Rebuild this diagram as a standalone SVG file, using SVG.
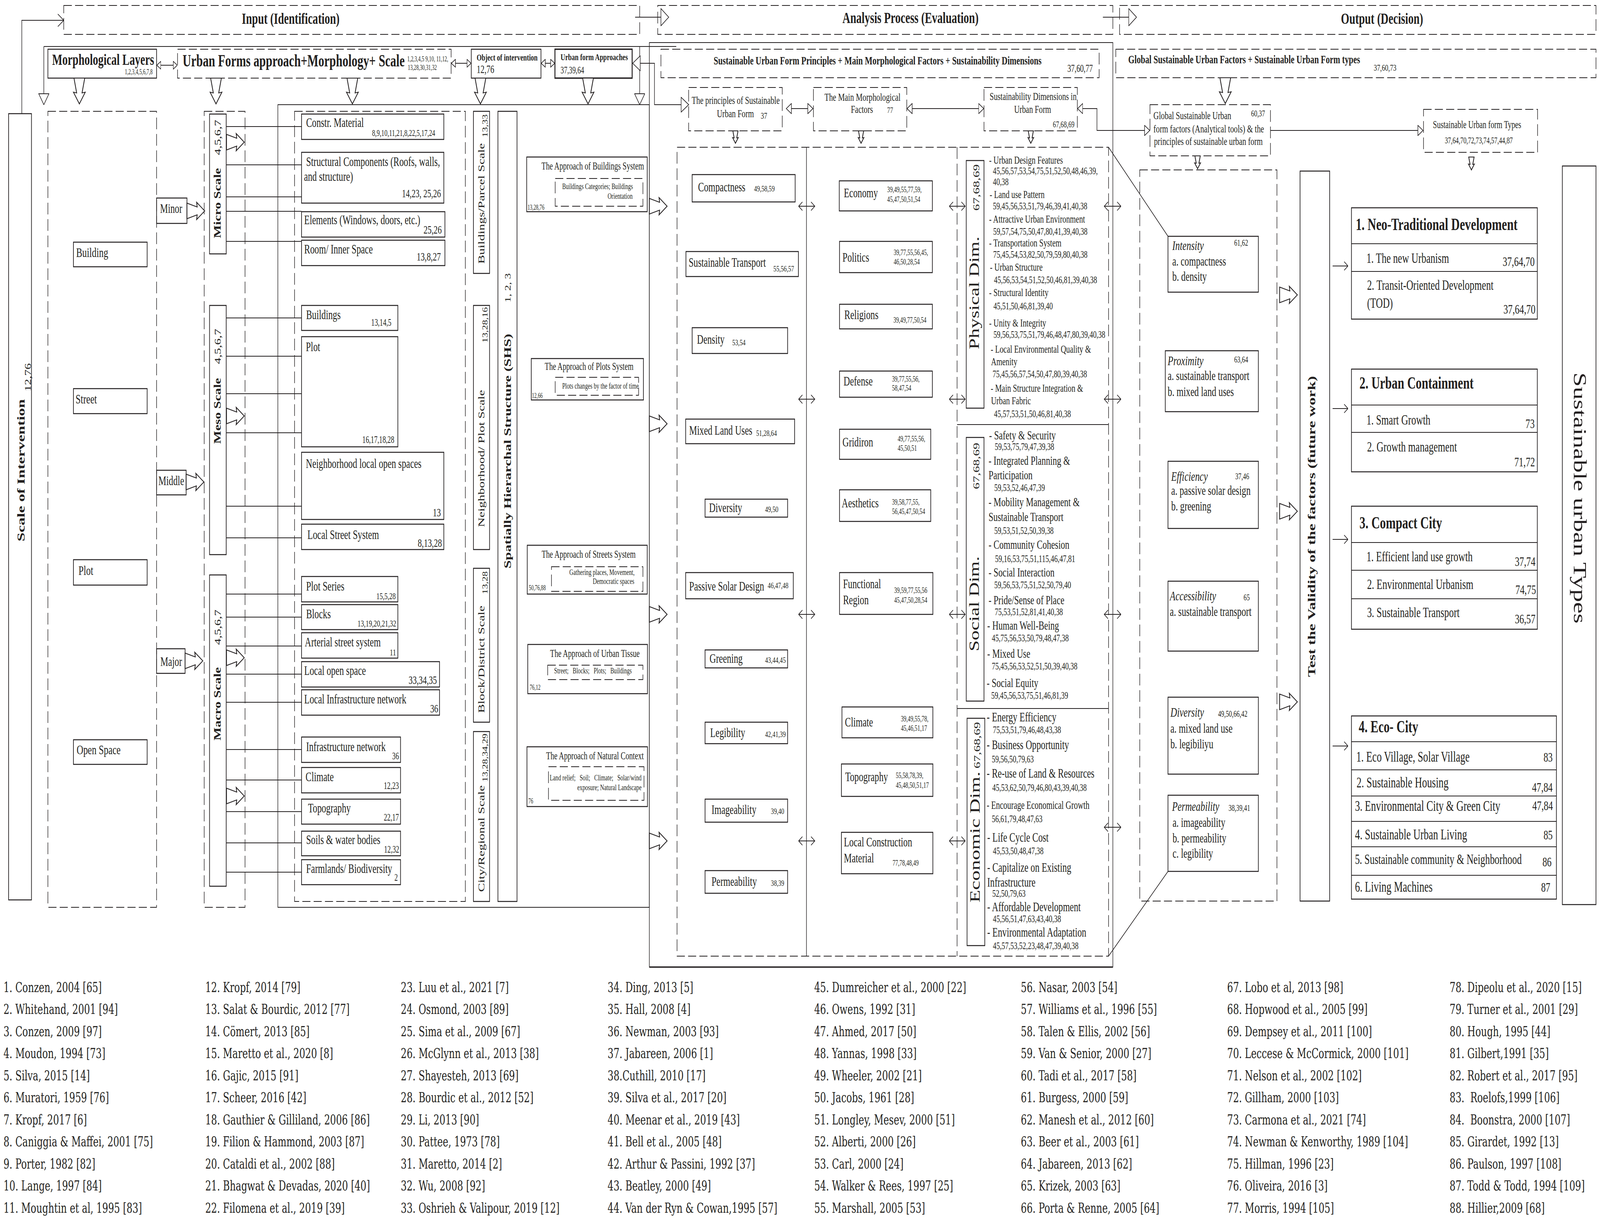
<svg xmlns="http://www.w3.org/2000/svg" width="5948" height="3121" viewBox="0 0 5948 3121" preserveAspectRatio="none">
<defs>
<style>
:root{width:100vw;height:100vh}
text{font-family:"Liberation Serif","Times New Roman",serif;fill:#231f20}
.b{font-weight:bold}.i{font-style:italic}.m{text-anchor:middle}.e{text-anchor:end}
.s{fill:none;stroke:#231f20;stroke-width:2.5}
.s3{fill:none;stroke:#231f20;stroke-width:3.5}
.d{fill:none;stroke:#231f20;stroke-width:2;stroke-dasharray:30 12}
.l{fill:none;stroke:#231f20;stroke-width:2}
.ba{fill:#fff;stroke:#231f20;stroke-width:2}
.r{font-family:"DejaVu Serif","Liberation Serif",serif;font-size:34.5px}
.z17{font-size:17px}.z18{font-size:18px}.z20{font-size:20.5px}.z22{font-size:22px}.z23{font-size:23px}.z24{font-size:24px}.z25{font-size:25px}.z26{font-size:26px}.z27{font-size:27px}.z28{font-size:28px}.z29{font-size:29px}.z30{font-size:30px}.z32{font-size:32px}.z33{font-size:33px}.z34{font-size:34px}.z35{font-size:35.5px}.z37{font-size:37px}.z38{font-size:38px}.z40{font-size:40px}.z41{font-size:41px}.z43{font-size:43.5px}.z44{font-size:44px}.z51{font-size:51px}.z52{font-size:53px}.z66{font-size:66px}
</style>
<marker id="v" viewBox="0 0 16 24" refX="15" refY="12" markerWidth="16" markerHeight="24" markerUnits="userSpaceOnUse" orient="auto-start-reverse"><path d="M1,1 L15,12 L1,23" fill="none" stroke="#231f20" stroke-width="2"/></marker>
<marker id="vL" viewBox="0 0 24 34" refX="23" refY="17" markerWidth="24" markerHeight="34" markerUnits="userSpaceOnUse" orient="auto-start-reverse"><path d="M1,1 L23,17 L1,33" fill="none" stroke="#231f20" stroke-width="2"/></marker>
<marker id="triL" viewBox="0 0 30 40" refX="29" refY="20" markerWidth="30" markerHeight="40" markerUnits="userSpaceOnUse" orient="auto-start-reverse"><path d="M1,1 L29,20 L1,39 Z" fill="#fff" stroke="#231f20" stroke-width="2"/></marker>
<marker id="triXL" viewBox="0 0 31 46" refX="30" refY="23" markerWidth="31" markerHeight="46" markerUnits="userSpaceOnUse" orient="auto-start-reverse"><path d="M1,1 L30,23 L1,45 Z" fill="#fff" stroke="#231f20" stroke-width="2"/></marker>
<marker id="triM" viewBox="0 0 21 28" refX="20" refY="14" markerWidth="21" markerHeight="28" markerUnits="userSpaceOnUse" orient="auto-start-reverse"><path d="M1,1 L20,14 L1,27 Z" fill="#fff" stroke="#231f20" stroke-width="2"/></marker>
<marker id="triS" viewBox="0 0 17 22" refX="16" refY="11" markerWidth="17" markerHeight="22" markerUnits="userSpaceOnUse" orient="auto-start-reverse"><path d="M1,1 L16,11 L1,21 Z" fill="#fff" stroke="#231f20" stroke-width="2"/></marker>
<path id="bar" d="M0,-20 L38,-10 L36,-22 L66,0 L36,22 L38,10 L0,20 Z" vector-effect="non-scaling-stroke"/>
</defs>
<rect width="5948" height="3121" fill="#fff"/>

<!-- headers -->
<g id="input-header"><rect class="d" x="237" y="14" width="2141" height="74"/><text class="b z40" x="899" y="61">Input (Identification)</text></g>
<g id="analysis-header"><rect class="d" x="2445" y="14" width="1692" height="74"/><text class="b z40" x="3132" y="59">Analysis Process (Evaluation)</text></g>
<g id="output-header"><rect class="d" x="4162" y="14" width="1771" height="74"/><text class="b z40" x="4985" y="61">Output (Decision)</text></g>

<!-- input top row -->
<g id="morph-layers"><rect class="s" x="178" y="126" width="404" height="74"/><text class="b z40" x="194" y="166">Morphological Layers</text><text class="z18" x="464" y="190">1,2,3,4,5,6,7,8</text></g>
<g id="urban-forms"><rect class="d" x="660" y="126" width="1017" height="74"/><text class="b z43" x="679" y="170">Urban Forms approach+Morphology+ Scale</text><text class="z18" x="1514" y="157">1,2,3,4,5 9,10, 11,12,</text><text class="z18" x="1516" y="179">13,28,30,31,32</text></g>
<g id="object"><rect class="s" x="1752" y="126" width="259" height="74"/><text class="b z24" x="1772" y="155">Object of intervention</text><text class="z29" x="1772" y="187">12,76</text></g>
<g id="approaches"><rect class="s3" x="2063" y="126" width="287" height="74"/><text class="b z24" x="2084" y="154">Urban form Approaches</text><text class="z25" x="2084" y="188">37,39,64</text></g>

<g id="scale-intervention"><rect class="s" x="32" y="291" width="85" height="2013"/><text class="b z41 m" transform="translate(91,1204) rotate(-90)">Scale of Intervention</text><text class="z32 m" transform="translate(114,966) rotate(-90)">12,76</text></g>

<!-- left morphological layers column -->
<g id="layers-column"><rect class="d" x="178" y="285" width="404" height="2038"/>
<rect class="s" x="273" y="620" width="274" height="63"/><text class="z34" x="283" y="658">Building</text>
<rect class="s" x="273" y="995" width="274" height="64"/><text class="z34" x="281" y="1033">Street</text>
<rect class="s" x="273" y="1433" width="274" height="65"/><text class="z34" x="292" y="1472">Plot</text>
<rect class="s" x="273" y="1894" width="274" height="63"/><text class="z34" x="285" y="1931">Open Space</text></g>
<g id="minor"><rect class="s" x="582" y="507" width="113" height="65"/><text class="z33" x="595" y="545">Minor</text></g>
<g id="middle"><rect class="s" x="582" y="1204" width="110" height="63"/><text class="z33" x="589" y="1242">Middle</text></g>
<g id="major"><rect class="s" x="582" y="1661" width="106" height="63"/><text class="z33" x="596" y="1705">Major</text></g>

<!-- scale column -->
<g id="scale-column"><rect class="d" x="759" y="285" width="152" height="2038"/>
<rect class="s" x="779" y="292" width="62" height="358"/><text class="b z35 m" transform="translate(820,520) rotate(-90)">Micro Scale</text><text class="z33 m" transform="translate(820,352) rotate(-90)">4,5,6,7</text>
<rect class="s" x="779" y="782" width="62" height="638"/><text class="b z35 m" transform="translate(820,1052) rotate(-90)">Meso Scale</text><text class="z33 m" transform="translate(820,887) rotate(-90)">4,5,6,7</text>
<rect class="s" x="779" y="1472" width="62" height="797"/><text class="b z35 m" transform="translate(820,1802) rotate(-90)">Macro Scale</text><text class="z33 m" transform="translate(820,1606) rotate(-90)">4,5,6,7</text></g>

<!-- container of elements -->
<g id="elements-container"><rect class="l" x="1033" y="268" width="1381" height="2055"/><rect class="d" x="1095" y="285" width="635" height="2023"/></g>
<g id="el-constr"><rect class="s" x="1121" y="292" width="529" height="65"/><text class="z33" x="1138" y="325">Constr. Material</text><text class="z23" x="1383" y="348">8,9,10,11,21,8,22,5,17,24</text></g>
<g id="el-structural"><rect class="s" x="1121" y="390" width="529" height="130"/><text class="z33" x="1138" y="425">Structural Components (Roofs, walls,</text><text class="z33" x="1130" y="463">and structure)</text><text class="z29 e" x="1639" y="505">14,23, 25,26</text></g>
<g id="el-elements"><rect class="s" x="1121" y="542" width="533" height="65"/><text class="z33" x="1131" y="574">Elements (Windows, doors, etc.)</text><text class="z30 e" x="1642" y="598">25,26</text></g>
<g id="el-room"><rect class="s" x="1121" y="615" width="533" height="65"/><text class="z33" x="1131" y="649">Room/ Inner Space</text><text class="z30 e" x="1639" y="667">13,8,27</text></g>
<g id="el-buildings"><rect class="s" x="1121" y="782" width="358" height="64"/><text class="z33" x="1138" y="817">Buildings</text><text class="z25" x="1380" y="834">13,14,5</text></g>
<g id="el-plot"><rect class="s" x="1121" y="862" width="358" height="282"/><text class="z33" x="1137" y="899">Plot</text><text class="z25" x="1347" y="1134">16,17,18,28</text></g>
<g id="el-neigh-open"><rect class="s" x="1121" y="1158" width="529" height="172"/><text class="z33" x="1137" y="1198">Neighborhood local open spaces</text><text class="z30 e" x="1639" y="1322">13</text></g>
<g id="el-local-street"><rect class="s" x="1121" y="1342" width="529" height="65"/><text class="z33" x="1143" y="1380">Local Street System</text><text class="z30 e" x="1643" y="1400">8,13,28</text></g>
<g id="el-plot-series"><rect class="s" x="1121" y="1476" width="358" height="65"/><text class="z33" x="1138" y="1512">Plot Series</text><text class="z24 e" x="1471" y="1534">15,5,28</text></g>
<g id="el-blocks"><rect class="s" x="1121" y="1548" width="358" height="64"/><text class="z33" x="1138" y="1583">Blocks</text><text class="z24 e" x="1473" y="1604">13,19,20,21,32</text></g>
<g id="el-arterial"><rect class="s" x="1121" y="1620" width="358" height="65"/><text class="z33" x="1133" y="1655">Arterial street system</text><text class="z24 e" x="1472" y="1678">11</text></g>
<g id="el-local-open"><rect class="s" x="1121" y="1694" width="513" height="65"/><text class="z33" x="1131" y="1728">Local open space</text><text class="z30 e" x="1624" y="1751">33,34,35</text></g>
<g id="el-local-infra"><rect class="s" x="1121" y="1766" width="513" height="65"/><text class="z33" x="1131" y="1801">Local Infrastructure network</text><text class="z30 e" x="1629" y="1824">36</text></g>
<g id="el-infra"><rect class="s" x="1121" y="1887" width="368" height="65"/><text class="z33" x="1138" y="1923">Infrastructure network</text><text class="z25 e" x="1483" y="1944">36</text></g>
<g id="el-climate"><rect class="s" x="1121" y="1965" width="368" height="65"/><text class="z33" x="1136" y="2000">Climate</text><text class="z25 e" x="1483" y="2020">12,23</text></g>
<g id="el-topography"><rect class="s" x="1121" y="2046" width="368" height="64"/><text class="z33" x="1145" y="2080">Topography</text><text class="z25 e" x="1483" y="2101">22,17</text></g>
<g id="el-soils"><rect class="s" x="1121" y="2128" width="368" height="63"/><text class="z33" x="1138" y="2161">Soils &amp; water bodies</text><text class="z25 e" x="1484" y="2183">12,32</text></g>
<g id="el-farmlands"><rect class="s" x="1121" y="2201" width="368" height="64"/><text class="z33" x="1138" y="2235">Farmlands/ Biodiversity</text><text class="z25 e" x="1479" y="2255">2</text></g>

<g id="scale-bars">
<rect class="s" x="1760" y="285" width="60" height="415"/><text class="z34 m" transform="translate(1800,521) rotate(-90)">Buildings/Parcel Scale</text><text class="z26 m" transform="translate(1813,322) rotate(-90)">13,33</text>
<rect class="s" x="1760" y="782" width="60" height="625"/><text class="z34 m" transform="translate(1800,1174) rotate(-90)">Neighborhood/ Plot Scale</text><text class="z26 m" transform="translate(1813,832) rotate(-90)">13,28,16</text>
<rect class="s" x="1760" y="1455" width="60" height="394"/><text class="z34 m" transform="translate(1800,1688) rotate(-90)">Block/District Scale</text><text class="z26 m" transform="translate(1813,1492) rotate(-90)">13,28</text>
<rect class="s" x="1760" y="1873" width="60" height="435"/><text class="z34 m" transform="translate(1800,2147) rotate(-90)">City/Regional Scale</text><text class="z26 m" transform="translate(1813,1940) rotate(-90)">13,28,34,29</text></g>
<g id="shs"><rect class="s" x="1851" y="285" width="71" height="2023"/><text class="b z38 m" transform="translate(1900,1155) rotate(-90)">Spatially Hierarchal Structure (SHS)</text><text class="z30 m" transform="translate(1898,737) rotate(-90)">1, 2, 3</text></g>

<g id="ap-buildings"><rect class="s" x="1958" y="402" width="448" height="140"/><text class="z27 e" x="2394" y="434">The Approach of Buildings System</text><rect class="d" x="2064" y="457" width="326" height="71"/><text class="z20 e" x="2353" y="484">Buildings Categories; Buildings</text><text class="z20 e" x="2352" y="509">Orientation</text><text class="z18" x="1961" y="537">13,28,76</text></g>
<g id="ap-plots"><rect class="s" x="1975" y="918" width="417" height="106"/><text class="z27 e" x="2355" y="947">The Approach of Plots System</text><rect class="d" x="2064" y="966" width="310" height="46"/><text class="z20" x="2090" y="995">Plots changes by the factor of time</text><text class="z18" x="1977" y="1019">12,66</text></g>
<g id="ap-streets"><rect class="s" x="1960" y="1396" width="446" height="125"/><text class="z27 e" x="2363" y="1428">The Approach of Streets System</text><rect class="d" x="2050" y="1451" width="340" height="63"/><text class="z20 e" x="2359" y="1472">Gathering places, Movement,</text><text class="z20 e" x="2358" y="1495">Democratic spaces</text><text class="z18" x="1966" y="1511">50,76,88</text></g>
<g id="ap-tissue"><rect class="s" x="1962" y="1650" width="445" height="126"/><text class="z27 e" x="2378" y="1682">The Approach of Urban Tissue</text><rect class="d" x="2036" y="1703" width="354" height="37"/><text class="z20" x="2060" y="1724">Street;&#160;&#160; Blocks;&#160;&#160; Plots;&#160;&#160; Buildings</text><text class="z18" x="1969" y="1766">76,12</text></g>
<g id="ap-natural"><rect class="s" x="1959" y="1912" width="448" height="153"/><text class="z27 e" x="2393" y="1944">The Approach of Natural Context</text><rect class="d" x="2039" y="1963" width="355" height="86"/><text class="z20 e" x="2385" y="1998">Land relief;&#160;&#160; Soil;&#160;&#160; Climate;&#160;&#160; Solar/wind</text><text class="z20 e" x="2385" y="2023">exposure; Natural Landscape</text><text class="z18" x="1964" y="2057">76</text></g>

<!-- analysis -->
<g id="analysis-frame"><rect class="l" x="2414" y="109" width="1723" height="2367"/><line class="s3" x1="2414" y1="2476" x2="4137" y2="2476"/>
<rect class="d" x="2457" y="126" width="1629" height="73"/><text class="b z30" x="2653" y="165">Sustainable Urban Form Principles + Main Morphological Factors + Sustainability Dimensions</text><text class="z27" x="3968" y="184">37,60,77</text>
<rect class="d" x="2517" y="377" width="1604" height="2071"/><line class="l" x1="2998" y1="377" x2="2998" y2="2448"/><line class="d" x1="3558" y1="377" x2="3558" y2="2448"/><line class="l" x1="3558" y1="1087" x2="4121" y2="1087"/><line class="l" x1="3558" y1="1814" x2="4121" y2="1814"/></g>
<g id="principles-box"><rect class="d" x="2560" y="224" width="348" height="111"/><text class="z28 m" x="2735" y="266">The principles of Sustainable</text><text class="z28" x="2665" y="300">Urban Form</text><text class="z24" x="2828" y="304">37</text></g>
<g id="main-morph-box"><rect class="d" x="3024" y="224" width="347" height="111"/><text class="z28" x="3065" y="258">The Main Morphological</text><text class="z28" x="3163" y="289">Factors</text><text class="z22" x="3298" y="289">77</text></g>
<g id="sust-dim-box"><rect class="d" x="3658" y="224" width="347" height="111"/><text class="z28" x="3679" y="256">Sustainability Dimensions in</text><text class="z28" x="3770" y="289">Urban Form</text><text class="z23" x="3914" y="326">67,68,69</text></g>

<g id="pr-compactness"><rect class="s" x="2573" y="447" width="383" height="70"/><text class="z33" x="2595" y="490">Compactness</text><text class="z22" x="2803" y="490">49,58,59</text></g>
<g id="pr-transport"><rect class="s" x="2550" y="644" width="418" height="64"/><text class="z33" x="2560" y="683">Sustainable Transport</text><text class="z22" x="2875" y="695">55,56,57</text></g>
<g id="pr-density"><rect class="s" x="2573" y="839" width="355" height="66"/><text class="z33" x="2591" y="880">Density</text><text class="z22" x="2722" y="884">53,54</text></g>
<g id="pr-mixed"><rect class="s" x="2549" y="1073" width="405" height="63"/><text class="z33" x="2562" y="1113">Mixed Land Uses</text><text class="z22" x="2811" y="1116">51,28,64</text></g>
<g id="pr-diversity"><rect class="s" x="2621" y="1278" width="307" height="46"/><text class="z33" x="2636" y="1311">Diversity</text><text class="z22" x="2844" y="1311">49,50</text></g>
<g id="pr-solar"><rect class="s" x="2549" y="1466" width="400" height="67"/><text class="z33" x="2562" y="1512">Passive Solar Design</text><text class="z22" x="2854" y="1506">46,47,48</text></g>
<g id="pr-greening"><rect class="s" x="2621" y="1664" width="307" height="46"/><text class="z33" x="2638" y="1697">Greening</text><text class="z22" x="2844" y="1697">43,44,45</text></g>
<g id="pr-legibility"><rect class="s" x="2621" y="1849" width="307" height="55"/><text class="z33" x="2640" y="1887">Legibility</text><text class="z22" x="2844" y="1887">42,41,39</text></g>
<g id="pr-imageability"><rect class="s" x="2621" y="2046" width="307" height="59"/><text class="z33" x="2645" y="2084">Imageability</text><text class="z22" x="2866" y="2084">39,40</text></g>
<g id="pr-permeability"><rect class="s" x="2621" y="2229" width="307" height="58"/><text class="z33" x="2645" y="2268">Permeability</text><text class="z22" x="2866" y="2268">38,39</text></g>

<g id="mf-economy"><rect class="s" x="3120" y="463" width="346" height="77"/><text class="z33" x="3137" y="505">Economy</text><text class="z20" x="3298" y="492">39,49,55,77,59,</text><text class="z20" x="3298" y="517">45,47,50,51,54</text></g>
<g id="mf-politics"><rect class="s" x="3121" y="618" width="345" height="80"/><text class="z33" x="3132" y="670">Politics</text><text class="z20" x="3322" y="653">39,77,55,56,45,</text><text class="z20" x="3322" y="677">46,50,28,54</text></g>
<g id="mf-religions"><rect class="s" x="3121" y="779" width="345" height="63"/><text class="z33" x="3139" y="817">Religions</text><text class="z20" x="3321" y="826">39,49,77,50,54</text></g>
<g id="mf-defense"><rect class="s" x="3121" y="950" width="345" height="67"/><text class="z33" x="3136" y="987">Defense</text><text class="z20" x="3316" y="977">39,77,55,56,</text><text class="z20" x="3316" y="1000">58,47,54</text></g>
<g id="mf-gridiron"><rect class="s" x="3121" y="1099" width="339" height="77"/><text class="z33" x="3132" y="1143">Gridiron</text><text class="z20" x="3337" y="1130">49,77,55,56,</text><text class="z20" x="3337" y="1154">45,50,51</text></g>
<g id="mf-aesthetics"><rect class="s" x="3121" y="1254" width="339" height="81"/><text class="z33" x="3129" y="1299">Aesthetics</text><text class="z20" x="3316" y="1292">39,58,77,55,</text><text class="z20" x="3316" y="1316">56,45,47,50,54</text></g>
<g id="mf-functional"><rect class="s" x="3121" y="1466" width="347" height="107"/><text class="z33" x="3134" y="1506">Functional</text><text class="z33" x="3134" y="1547">Region</text><text class="z20" x="3324" y="1518">39,59,77,55,56</text><text class="z20" x="3324" y="1543">45,47,50,28,54</text></g>
<g id="mf-climate"><rect class="s" x="3130" y="1810" width="338" height="79"/><text class="z33" x="3141" y="1860">Climate</text><text class="z20" x="3349" y="1847">39,49,55,78,</text><text class="z20" x="3349" y="1871">45,46,51,17</text></g>
<g id="mf-topography"><rect class="s" x="3128" y="1956" width="340" height="83"/><text class="z33" x="3142" y="2000">Topography</text><text class="z20" x="3330" y="1992">55,58,78,39,</text><text class="z20" x="3330" y="2017">45,48,50,51,17</text></g>
<g id="mf-construction"><rect class="s" x="3128" y="2131" width="340" height="106"/><text class="z33" x="3137" y="2167">Local Construction</text><text class="z33" x="3137" y="2208">Material</text><text class="z20" x="3318" y="2216">77,78,48,49</text></g>

<g id="physical-dim"><rect class="s" x="3592" y="411" width="66" height="634"/><text class="z51 m" transform="translate(3639,750) rotate(-90)">Physical Dim.</text><text class="z34 m" transform="translate(3641,480) rotate(-90)">67,68,69</text>
<text class="z28" x="3677" y="419">- Urban Design Features</text><text class="z26" x="3691" y="446">45,56,57,53,54,75,51,52,50,48,46,39,</text><text class="z26" x="3691" y="474">40,38</text>
<text class="z28" x="3679" y="507">- Land use Pattern</text><text class="z26" x="3691" y="536">59,45,56,53,51,79,46,39,41,40,38</text>
<text class="z28" x="3677" y="570">- Attractive Urban Environment</text><text class="z26" x="3692" y="601">59,57,54,75,50,47,80,41,39,40,38</text>
<text class="z28" x="3677" y="631">- Transportation System</text><text class="z26" x="3692" y="660">75,45,54,53,82,50,79,59,80,40,38</text>
<text class="z28" x="3680" y="693">- Urban Structure</text><text class="z26" x="3695" y="725">45,56,53,54,51,52,50,46,81,39,40,38</text>
<text class="z28" x="3677" y="758">- Structural Identity</text><text class="z26" x="3693" y="792">45,51,50,46,81,39,40</text>
<text class="z28" x="3677" y="836">- Unity &amp; Integrity</text><text class="z26" x="3693" y="865">59,56,53,75,51,79,46,48,47,80,39,40,38</text>
<text class="z28" x="3683" y="903">- Local Environmental Quality &amp;</text><text class="z28" x="3684" y="935">Amenity</text><text class="z26" x="3690" y="966">75,45,56,57,54,50,47,80,39,40,38</text>
<text class="z28" x="3683" y="1003">- Main Structure Integration &amp;</text><text class="z28" x="3684" y="1035">Urban Fabric</text><text class="z26" x="3695" y="1068">45,57,53,51,50,46,81,40,38</text></g>

<g id="social-dim"><rect class="s" x="3592" y="1120" width="66" height="675"/><text class="z51 m" transform="translate(3639,1546) rotate(-90)">Social Dim.</text><text class="z34 m" transform="translate(3641,1193) rotate(-90)">67,68,69</text>
<text class="z32" x="3677" y="1125">- Safety &amp; Security</text><text class="z26" x="3698" y="1152">59,53,75,79,47,39,38</text>
<text class="z32" x="3675" y="1190">- Integrated Planning &amp;</text><text class="z32" x="3675" y="1227">Participation</text><text class="z26" x="3696" y="1257">59,53,52,46,47,39</text>
<text class="z32" x="3675" y="1296">- Mobility Management &amp;</text><text class="z32" x="3675" y="1334">Sustainable Transport</text><text class="z26" x="3696" y="1367">59,53,51,52,50,39,38</text>
<text class="z32" x="3675" y="1405">- Community Cohesion</text><text class="z26" x="3699" y="1439">59,16,53,75,51,115,46,47,81</text>
<text class="z32" x="3675" y="1476">- Social Interaction</text><text class="z26" x="3696" y="1506">59,56,53,75,51,52,50,79,40</text>
<text class="z32" x="3675" y="1547">- Pride/Sense of Place</text><text class="z26" x="3698" y="1575">75,53,51,52,81,41,40,38</text>
<text class="z32" x="3670" y="1612">- Human Well-Being</text><text class="z26" x="3687" y="1642">45,75,56,53,50,79,48,47,38</text>
<text class="z32" x="3670" y="1684">- Mixed Use</text><text class="z26" x="3687" y="1714">75,45,56,53,52,51,50,39,40,38</text>
<text class="z32" x="3668" y="1759">- Social Equity</text><text class="z26" x="3685" y="1789">59,45,56,53,75,51,46,81,39</text></g>

<g id="economic-dim"><rect class="s" x="3595" y="1839" width="66" height="582"/><text class="z52 m" transform="translate(3642,2143) rotate(-90)">Economic Dim.</text><text class="z34 m" transform="translate(3644,1908) rotate(-90)">67,68,69</text>
<text class="z33" x="3668" y="1847">- Energy Efficiency</text><text class="z26" x="3691" y="1877">75,53,51,79,46,48,43,38</text>
<text class="z33" x="3668" y="1918">- Business Opportunity</text><text class="z26" x="3687" y="1952">59,56,50,79,63</text>
<text class="z33" x="3668" y="1991">- Re-use of Land &amp; Resources</text><text class="z26" x="3689" y="2025">45,53,62,50,79,46,80,43,39,40,38</text>
<text class="z29" x="3668" y="2071">- Encourage Economical Growth</text><text class="z26" x="3687" y="2105">56,61,79,48,47,63</text>
<text class="z33" x="3670" y="2155">- Life Cycle Cost</text><text class="z26" x="3691" y="2187">45,53,50,48,47,38</text>
<text class="z33" x="3670" y="2232">- Capitalize on Existing</text><text class="z33" x="3670" y="2270">Infrastructure</text><text class="z26" x="3689" y="2296">52,50,79,63</text>
<text class="z33" x="3670" y="2333">- Affordable Development</text><text class="z26" x="3691" y="2361">45,56,51,47,63,43,40,38</text>
<text class="z33" x="3670" y="2398">- Environmental Adaptation</text><text class="z26" x="3691" y="2430">45,57,53,52,23,48,47,39,40,38</text></g>

<!-- output -->
<g id="output-subheader"><rect class="d" x="4148" y="126" width="1785" height="73"/><text class="b z30" x="4194" y="162">Global Sustainable Urban Factors + Sustainable Urban Form types</text><text class="z24" x="5107" y="181">37,60,73</text></g>
<g id="global-factors-box"><rect class="d" x="4275" y="268" width="448" height="131"/><text class="z28" x="4288" y="305">Global Sustainable Urban</text><text class="z23" x="4651" y="298">60,37</text><text class="z28" x="4288" y="339">form factors (Analytical tools) &amp; the</text><text class="z28" x="4290" y="371">principles of sustainable urban form</text></g>
<g id="suf-types-box"><rect class="d" x="5292" y="280" width="424" height="110"/><text class="z27" x="5327" y="328">Sustainable Urban form Types</text><text class="z23" x="5371" y="367">37,64,70,72,73,74,57,44,87</text></g>
<g id="factors-column"><rect class="d" x="4237" y="435" width="510" height="1872"/></g>
<g id="f-intensity"><rect class="s" x="4342" y="605" width="336" height="143"/><text class="z34 i" x="4358" y="640">Intensity</text><text class="z23" x="4588" y="629">61,62</text><text class="z33" x="4358" y="680">a. compactness</text><text class="z33" x="4358" y="719">b. density</text></g>
<g id="f-proximity"><rect class="s" x="4332" y="898" width="346" height="156"/><text class="z34 i" x="4341" y="935">Proximity</text><text class="z23" x="4588" y="928">63,64</text><text class="z33" x="4341" y="973">a. sustainable transport</text><text class="z33" x="4341" y="1014">b. mixed land uses</text></g>
<g id="f-efficiency"><rect class="s" x="4342" y="1181" width="336" height="172"/><text class="z34 i" x="4354" y="1231">Efficiency</text><text class="z23" x="4592" y="1227">37,46</text><text class="z33" x="4354" y="1267">a. passive solar design</text><text class="z33" x="4354" y="1307">b. greening</text></g>
<g id="f-accessibility"><rect class="s" x="4342" y="1488" width="336" height="179"/><text class="z34 i" x="4349" y="1537">Accessibility</text><text class="z23" x="4623" y="1537">65</text><text class="z33" x="4349" y="1577">a. sustainable transport</text></g>
<g id="f-diversity"><rect class="s" x="4342" y="1785" width="336" height="197"/><text class="z34 i" x="4351" y="1835">Diversity</text><text class="z23" x="4528" y="1835">49,50,66,42</text><text class="z33" x="4351" y="1876">a. mixed land use</text><text class="z33" x="4351" y="1916">b. legibiliyu</text></g>
<g id="f-permeability"><rect class="s" x="4342" y="2036" width="336" height="195"/><text class="z34 i" x="4357" y="2076">Permeability</text><text class="z23" x="4567" y="2076">38,39,41</text><text class="z33" x="4359" y="2117">a. imageability</text><text class="z33" x="4359" y="2157">b. permeability</text><text class="z33" x="4359" y="2196">c. legibility</text></g>

<g id="test-validity"><rect class="s" x="4833" y="438" width="110" height="1869"/><text class="b z41 m" transform="translate(4890,1348) rotate(-90)">Test the Validity of the factors (future work)</text></g>

<g id="t-neo"><rect class="s" x="5024" y="532" width="691" height="285"/><line class="l" x1="5024" y1="624" x2="5715" y2="624"/><line class="l" x1="5024" y1="695" x2="5715" y2="695"/>
<text class="b z44" x="5040" y="589">1. Neo-Traditional Development</text><text class="z35" x="5080" y="673">1. The new Urbanism</text><text class="z34 e" x="5705" y="681">37,64,70</text><text class="z35" x="5082" y="742">2. Transit-Oriented Development</text><text class="z35" x="5082" y="788">(TOD)</text><text class="z34 e" x="5708" y="803">37,64,70</text></g>
<g id="t-containment"><rect class="s" x="5024" y="945" width="691" height="263"/><line class="l" x1="5024" y1="1037" x2="5715" y2="1037"/><line class="l" x1="5024" y1="1107" x2="5715" y2="1107"/>
<text class="b z44" x="5054" y="995">2. Urban Containment</text><text class="z35" x="5080" y="1087">1. Smart Growth</text><text class="z34 e" x="5705" y="1096">73</text><text class="z35" x="5082" y="1156">2. Growth management</text><text class="z34 e" x="5706" y="1194">71,72</text></g>
<g id="t-compact"><rect class="s" x="5024" y="1296" width="691" height="315"/><line class="l" x1="5024" y1="1389" x2="5715" y2="1389"/><line class="l" x1="5024" y1="1460" x2="5715" y2="1460"/><line class="l" x1="5024" y1="1533" x2="5715" y2="1533"/>
<text class="b z44" x="5054" y="1353">3. Compact City</text><text class="z35" x="5080" y="1437">1. Efficient land use growth</text><text class="z34 e" x="5708" y="1449">37,74</text><text class="z35" x="5082" y="1508">2. Environmental Urbanism</text><text class="z34 e" x="5710" y="1521">74,75</text><text class="z35" x="5082" y="1580">3. Sustainable Transport</text><text class="z34 e" x="5708" y="1596">36,57</text></g>
<g id="t-eco"><rect class="s" x="5024" y="1833" width="762" height="469"/><line class="l" x1="5024" y1="1899" x2="5786" y2="1899"/><line class="l" x1="5024" y1="1971" x2="5786" y2="1971"/><line class="l" x1="5024" y1="2038" x2="5786" y2="2038"/><line class="l" x1="5024" y1="2103" x2="5786" y2="2103"/><line class="l" x1="5024" y1="2168" x2="5786" y2="2168"/><line class="l" x1="5024" y1="2241" x2="5786" y2="2241"/>
<text class="b z44" x="5051" y="1875">4. Eco- City</text>
<text class="z37" x="5042" y="1950">1. Eco Village, Solar Village</text><text class="z34 e" x="5772" y="1950">83</text>
<text class="z37" x="5043" y="2016">2. Sustainable Housing</text><text class="z34 e" x="5772" y="2027">47,84</text>
<text class="z37" x="5037" y="2076">3. Environmental City &amp; Green City</text><text class="z34 e" x="5773" y="2074">47,84</text>
<text class="z37" x="5037" y="2149">4. Sustainable Urban Living</text><text class="z34 e" x="5772" y="2149">85</text>
<text class="z35" x="5037" y="2212">5. Sustainable community &amp; Neighborhood</text><text class="z34 e" x="5768" y="2218">86</text>
<text class="z37" x="5037" y="2283">6. Living Machines</text><text class="z34 e" x="5763" y="2283">87</text></g>
<g id="sustainable-urban-types"><rect class="s" x="5808" y="425" width="125" height="1891"/><text class="z66 m" transform="translate(5850,1275) rotate(90)">Sustainable urban Types</text></g>

<!-- connectors -->
<g id="connectors">
<polyline class="l" points="81,291 81,52 237,52" marker-end="url(#vL)"/>
<line class="l" x1="163" y1="119" x2="2514" y2="119"/>
<line class="l" x1="163" y1="119" x2="163" y2="268" marker-end="url(#triL)"/>
<line class="l" x1="2378" y1="119" x2="2378" y2="268" marker-end="url(#triL)"/>
<polyline class="l" points="2352,162 2433,162 2433,268 2560,268" marker-start="url(#triL)" marker-end="url(#triL)"/>
<line class="l" x1="2361" y1="44" x2="2486" y2="44" marker-end="url(#triXL)"/>
<line class="l" x1="4100" y1="44" x2="4225" y2="44" marker-end="url(#triXL)"/>
<line class="l" x1="583" y1="167" x2="659" y2="167" marker-start="url(#triS)" marker-end="url(#triS)"/>
<line class="l" x1="1678" y1="162" x2="1751" y2="162" marker-start="url(#triS)" marker-end="url(#triS)"/>
<line class="l" x1="2012" y1="162" x2="2062" y2="162" marker-start="url(#triS)" marker-end="url(#triS)"/>
<line class="l" x1="2923" y1="278" x2="3022" y2="278" marker-start="url(#triM)" marker-end="url(#triM)"/>
<line class="l" x1="3372" y1="278" x2="3657" y2="278" marker-start="url(#triM)" marker-end="url(#triM)"/>
<polyline class="l" points="4006,278 4078,278 4078,334 4274,334" marker-start="url(#triM)" marker-end="url(#triM)"/>
<line class="l" x1="4723" y1="334" x2="5290" y2="334" marker-end="url(#triM)"/>
<line class="l" x1="4121" y1="377" x2="4342" y2="605"/>
<line class="l" x1="4121" y1="2448" x2="4342" y2="2231"/>
<g class="l">
<line x1="841" y1="324" x2="1121" y2="324"/><line x1="841" y1="422" x2="1121" y2="422"/><line x1="841" y1="504" x2="1121" y2="504"/><line x1="841" y1="541" x2="1121" y2="541"/><line x1="841" y1="618" x2="1121" y2="618"/>
<line x1="841" y1="814" x2="1121" y2="814"/><line x1="841" y1="912" x2="1121" y2="912"/><line x1="841" y1="1008" x2="1121" y2="1008"/><line x1="841" y1="1108" x2="1121" y2="1108"/><line x1="841" y1="1296" x2="1121" y2="1296"/><line x1="841" y1="1377" x2="1121" y2="1377"/>
<line x1="841" y1="1521" x2="1121" y2="1521"/><line x1="841" y1="1580" x2="1121" y2="1580"/><line x1="841" y1="1654" x2="1121" y2="1654"/><line x1="841" y1="1726" x2="1121" y2="1726"/><line x1="841" y1="1798" x2="1121" y2="1798"/><line x1="841" y1="1919" x2="1121" y2="1919"/><line x1="841" y1="1997" x2="1121" y2="1997"/><line x1="841" y1="2078" x2="1121" y2="2078"/><line x1="841" y1="2158" x2="1121" y2="2158"/><line x1="841" y1="2233" x2="1121" y2="2233"/>
</g>
<g class="l">
<line x1="2969" y1="528" x2="3029" y2="528" marker-start="url(#v)" marker-end="url(#v)"/><line x1="2969" y1="1022" x2="3029" y2="1022" marker-start="url(#v)" marker-end="url(#v)"/><line x1="2969" y1="1573" x2="3029" y2="1573" marker-start="url(#v)" marker-end="url(#v)"/><line x1="2969" y1="2153" x2="3029" y2="2153" marker-start="url(#v)" marker-end="url(#v)"/>
<line x1="3529" y1="528" x2="3588" y2="528" marker-start="url(#v)" marker-end="url(#v)"/><line x1="3529" y1="1022" x2="3588" y2="1022" marker-start="url(#v)" marker-end="url(#v)"/><line x1="3529" y1="1573" x2="3588" y2="1573" marker-start="url(#v)" marker-end="url(#v)"/><line x1="3529" y1="2153" x2="3588" y2="2153" marker-start="url(#v)" marker-end="url(#v)"/>
<line x1="4105" y1="528" x2="4167" y2="528" marker-start="url(#v)" marker-end="url(#v)"/><line x1="4105" y1="1022" x2="4167" y2="1022" marker-start="url(#v)" marker-end="url(#v)"/><line x1="4105" y1="1573" x2="4167" y2="1573" marker-start="url(#v)" marker-end="url(#v)"/><line x1="4105" y1="2118" x2="4167" y2="2118" marker-start="url(#v)" marker-end="url(#v)"/>
<line x1="4954" y1="681" x2="5011" y2="681" marker-end="url(#v)"/><line x1="4954" y1="1046" x2="5011" y2="1046" marker-end="url(#v)"/><line x1="4954" y1="1381" x2="5011" y2="1381" marker-end="url(#v)"/><line x1="4954" y1="1910" x2="5011" y2="1910" marker-end="url(#v)"/>
</g>
<g class="ba">
<use href="#bar" transform="translate(295,200) rotate(90)"/><use href="#bar" transform="translate(803,200) rotate(90)"/><use href="#bar" transform="translate(1310,200) rotate(90)"/><use href="#bar" transform="translate(1786,200) rotate(90)"/><use href="#bar" transform="translate(2186,200) rotate(90)"/><use href="#bar" transform="translate(4555,199) rotate(90)"/>
<use href="#bar" transform="translate(2734,335) rotate(90) scale(0.48)"/><use href="#bar" transform="translate(3201,335) rotate(90) scale(0.48)"/><use href="#bar" transform="translate(3832,335) rotate(90) scale(0.48)"/><use href="#bar" transform="translate(4452,399) rotate(90) scale(0.5)"/><use href="#bar" transform="translate(5470,402) rotate(90) scale(0.5)"/>
<use href="#bar" transform="translate(695,540)"/><use href="#bar" transform="translate(692,1234)"/><use href="#bar" transform="translate(688,1692)"/>
<use href="#bar" transform="translate(842,364)"/><use href="#bar" transform="translate(842,1065)"/><use href="#bar" transform="translate(842,1684)"/><use href="#bar" transform="translate(842,2038)"/>
<use href="#bar" transform="translate(2414,528)"/><use href="#bar" transform="translate(2414,1085)"/><use href="#bar" transform="translate(2414,1573)"/><use href="#bar" transform="translate(2414,2153)"/>
<use href="#bar" transform="translate(4757,755)"/><use href="#bar" transform="translate(4757,1309)"/><use href="#bar" transform="translate(4757,1797)"/>
</g>
</g>

<!-- references -->
<g id="references" class="r">
<text class="r" x="13" y="2540">1. Conzen, 2004 [65]</text><text class="r" x="13" y="2596">2. Whitehand, 2001 [94]</text><text class="r" x="13" y="2653">3. Conzen, 2009 [97]</text><text class="r" x="13" y="2709">4. Moudon, 1994 [73]</text><text class="r" x="13" y="2766">5. Silva, 2015 [14]</text><text class="r" x="13" y="2822">6. Muratori, 1959 [76]</text><text class="r" x="13" y="2879">7. Kropf, 2017 [6]</text><text class="r" x="13" y="2935">8. Caniggia &amp; Maffei, 2001 [75]</text><text class="r" x="13" y="2992">9. Porter, 1982 [82]</text><text class="r" x="13" y="3048">10. Lange, 1997 [84]</text><text class="r" x="13" y="3105">11. Moughtin et al, 1995 [83]</text>
<text class="r" x="763" y="2540">12. Kropf, 2014 [79]</text><text class="r" x="763" y="2596">13. Salat &amp; Bourdic, 2012 [77]</text><text class="r" x="763" y="2653">14. Cömert, 2013 [85]</text><text class="r" x="763" y="2709">15. Maretto et al., 2020 [8]</text><text class="r" x="763" y="2766">16. Gajic, 2015 [91]</text><text class="r" x="763" y="2822">17. Scheer, 2016 [42]</text><text class="r" x="763" y="2879">18. Gauthier &amp; Gilliland, 2006 [86]</text><text class="r" x="763" y="2935">19. Filion &amp; Hammond, 2003 [87]</text><text class="r" x="763" y="2992">20. Cataldi et al., 2002 [88]</text><text class="r" x="763" y="3048">21. Bhagwat &amp; Devadas, 2020 [40]</text><text class="r" x="763" y="3105">22. Filomena et al., 2019 [39]</text>
<text class="r" x="1490" y="2540">23. Luu et al., 2021 [7]</text><text class="r" x="1490" y="2596">24. Osmond, 2003 [89]</text><text class="r" x="1490" y="2653">25. Sima et al., 2009 [67]</text><text class="r" x="1490" y="2709">26. McGlynn et al., 2013 [38]</text><text class="r" x="1490" y="2766">27. Shayesteh, 2013 [69]</text><text class="r" x="1490" y="2822">28. Bourdic et al., 2012 [52]</text><text class="r" x="1490" y="2879">29. Li, 2013 [90]</text><text class="r" x="1490" y="2935">30. Pattee, 1973 [78]</text><text class="r" x="1490" y="2992">31. Maretto, 2014 [2]</text><text class="r" x="1490" y="3048">32. Wu, 2008 [92]</text><text class="r" x="1490" y="3105">33. Oshrieh &amp; Valipour, 2019 [12]</text>
<text class="r" x="2259" y="2540">34. Ding, 2013 [5]</text><text class="r" x="2259" y="2596">35. Hall, 2008 [4]</text><text class="r" x="2259" y="2653">36. Newman, 2003 [93]</text><text class="r" x="2259" y="2709">37. Jabareen, 2006 [1]</text><text class="r" x="2259" y="2766">38.Cuthill, 2010 [17]</text><text class="r" x="2259" y="2822">39. Silva et al., 2017 [20]</text><text class="r" x="2259" y="2879">40. Meenar et al., 2019 [43]</text><text class="r" x="2259" y="2935">41. Bell et al., 2005 [48]</text><text class="r" x="2259" y="2992">42. Arthur &amp; Passini, 1992 [37]</text><text class="r" x="2259" y="3048">43. Beatley, 2000 [49]</text><text class="r" x="2259" y="3105">44. Van der Ryn &amp; Cowan,1995 [57]</text>
<text class="r" x="3027" y="2540">45. Dumreicher et al., 2000 [22]</text><text class="r" x="3027" y="2596">46. Owens, 1992 [31]</text><text class="r" x="3027" y="2653">47. Ahmed, 2017 [50]</text><text class="r" x="3027" y="2709">48. Yannas, 1998 [33]</text><text class="r" x="3027" y="2766">49. Wheeler, 2002 [21]</text><text class="r" x="3027" y="2822">50. Jacobs, 1961 [28]</text><text class="r" x="3027" y="2879">51. Longley, Mesev, 2000 [51]</text><text class="r" x="3027" y="2935">52. Alberti, 2000 [26]</text><text class="r" x="3027" y="2992">53. Carl, 2000 [24]</text><text class="r" x="3027" y="3048">54. Walker &amp; Rees, 1997 [25]</text><text class="r" x="3027" y="3105">55. Marshall, 2005 [53]</text>
<text class="r" x="3795" y="2540">56. Nasar, 2003 [54]</text><text class="r" x="3795" y="2596">57. Williams et al., 1996 [55]</text><text class="r" x="3795" y="2653">58. Talen &amp; Ellis, 2002 [56]</text><text class="r" x="3795" y="2709">59. Van &amp; Senior, 2000 [27]</text><text class="r" x="3795" y="2766">60. Tadi et al., 2017 [58]</text><text class="r" x="3795" y="2822">61. Burgess, 2000 [59]</text><text class="r" x="3795" y="2879">62. Manesh et al., 2012 [60]</text><text class="r" x="3795" y="2935">63. Beer et al., 2003 [61]</text><text class="r" x="3795" y="2992">64. Jabareen, 2013 [62]</text><text class="r" x="3795" y="3048">65. Krizek, 2003 [63]</text><text class="r" x="3795" y="3105">66. Porta &amp; Renne, 2005 [64]</text>
<text class="r" x="4562" y="2540">67. Lobo et al, 2013 [98]</text><text class="r" x="4562" y="2596">68. Hopwood et al., 2005 [99]</text><text class="r" x="4562" y="2653">69. Dempsey et al., 2011 [100]</text><text class="r" x="4562" y="2709">70. Leccese &amp; McCormick, 2000 [101]</text><text class="r" x="4562" y="2766">71. Nelson et al., 2002 [102]</text><text class="r" x="4562" y="2822">72. Gillham, 2000 [103]</text><text class="r" x="4562" y="2879">73. Carmona et al., 2021 [74]</text><text class="r" x="4562" y="2935">74. Newman &amp; Kenworthy, 1989 [104]</text><text class="r" x="4562" y="2992">75. Hillman, 1996 [23]</text><text class="r" x="4562" y="3048">76. Oliveira, 2016 [3]</text><text class="r" x="4562" y="3105">77. Morris, 1994 [105]</text>
<text class="r" x="5389" y="2540">78. Dipeolu et al., 2020 [15]</text><text class="r" x="5389" y="2596">79. Turner et al., 2001 [29]</text><text class="r" x="5389" y="2653">80. Hough, 1995 [44]</text><text class="r" x="5389" y="2709">81. Gilbert,1991 [35]</text><text class="r" x="5389" y="2766">82. Robert et al., 2017 [95]</text><text class="r" x="5389" y="2822">83.&#160; Roelofs,1999 [106]</text><text class="r" x="5389" y="2879">84.&#160; Boonstra, 2000 [107]</text><text class="r" x="5389" y="2935">85. Girardet, 1992 [13]</text><text class="r" x="5389" y="2992">86. Paulson, 1997 [108]</text><text class="r" x="5389" y="3048">87. Todd &amp; Todd, 1994 [109]</text><text class="r" x="5389" y="3105">88. Hillier,2009 [68]</text>
</g>
</svg>
